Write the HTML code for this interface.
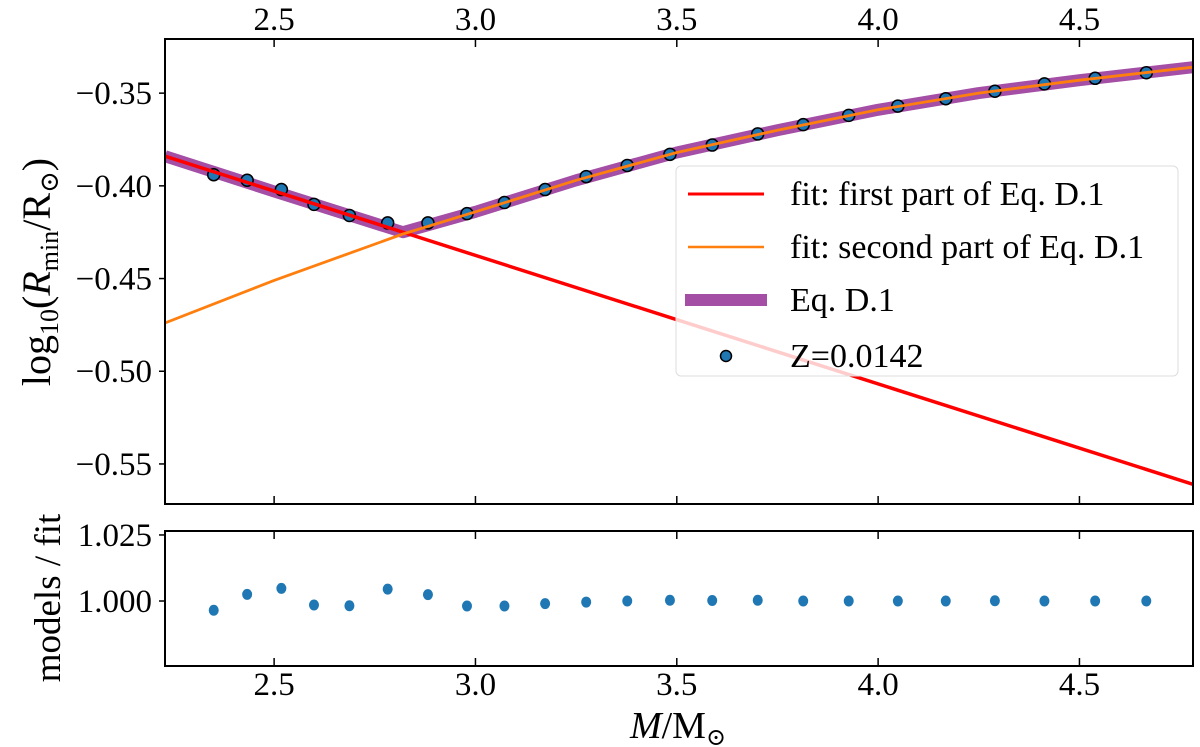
<!DOCTYPE html>
<html><head><meta charset="utf-8"><style>
html,body{margin:0;padding:0;background:#fff}
svg{display:block}
text{font-family:"Liberation Serif","DejaVu Serif",serif;fill:#000}
</style></head><body>
<svg id="chart" width="1200" height="747" viewBox="0 0 1200 747"></svg>
<script>
const masses=[2.350,2.433,2.518,2.599,2.687,2.782,2.882,2.979,3.072,3.173,3.275,3.377,3.483,3.588,3.701,3.814,3.927,4.049,4.168,4.290,4.413,4.539,4.666];
const modelLogR=[-0.394,-0.397,-0.402,-0.410,-0.416,-0.420,-0.420,-0.415,-0.409,-0.402,-0.395,-0.389,-0.383,-0.378,-0.372,-0.367,-0.362,-0.357,-0.353,-0.349,-0.345,-0.342,-0.339];
const ratios=[0.9965,1.0025,1.0048,0.9985,0.9982,1.0045,1.0024,0.9981,0.9981,0.9990,0.9996,1.0000,1.0003,1.0002,1.0003,1.0000,1.0000,1.0000,1.0000,1.0001,1.0000,1.0000,1.0000];
const redX=[2.229,3.5,4.782];
const redY=[-0.384,-0.4722,-0.561];
const orangeX=[2.229,2.5,2.82,3.0,3.25,3.5,3.75,4.0,4.25,4.5,4.782];
const orangeY=[-0.474,-0.451,-0.426,-0.414,-0.397,-0.382,-0.370,-0.359,-0.350,-0.343,-0.336];
const eqX=[2.229,2.5,2.82,3.0,3.25,3.5,3.75,4.0,4.25,4.5,4.782];
const eqY=[-0.384,-0.403,-0.425,-0.414,-0.397,-0.382,-0.370,-0.359,-0.350,-0.343,-0.336];
const xTicks=[2.5,3.0,3.5,4.0,4.5];
const yTicksTop=[-0.35,-0.40,-0.45,-0.50,-0.55];
const yTicksBot=[1.000,1.025];

const NS='http://www.w3.org/2000/svg';
const svg=document.getElementById('chart');
const L=165,R=1193,T1=39,B1=504,T2=531,B2=666;
const X0=2.229,X1=4.782,Y0=-0.5716,Y1=-0.3208,R0=0.9754,R1=1.0265;
const sx=v=>L+(v-X0)/(X1-X0)*(R-L);
const sy=v=>B1-(v-Y0)/(Y1-Y0)*(B1-T1);
const sr=v=>B2-(v-R0)/(R1-R0)*(B2-T2);
function mk(tag,attrs,parent){const e=document.createElementNS(NS,tag);for(const k in attrs)e.setAttribute(k,attrs[k]);(parent||svg).appendChild(e);return e;}
function txt(s,x,y,size,anchor,parent){const t=mk('text',{x:x,y:y,'font-size':size,'text-anchor':anchor||'middle'},parent);t.textContent=s;return t;}

const defs=mk('defs',{});
const cp=mk('clipPath',{id:'c1'},defs);mk('rect',{x:L,y:T1,width:R-L,height:B1-T1},cp);

function line(xs,ys,color,w,name){
  const d=xs.map((x,i)=>(i?'L':'M')+sx(x).toFixed(1)+','+sy(ys[i]).toFixed(1)).join(' ');
  const p=mk('path',{d:d,fill:'none',stroke:color,'stroke-width':w,'clip-path':'url(#c1)','stroke-linejoin':'round'});
  
  
}
line(eqX,eqY,'#a44ea6',12,'eq-d1-line');
masses.forEach((m,i)=>{
  const c=mk('circle',{cx:sx(m),cy:sy(modelLogR[i]),r:6,fill:'#1f77b4',stroke:'#000','stroke-width':1.5});
  
  
});
line(redX,redY,'#ff0000',3.5,'fit-first-part-line');
line(orangeX,orangeY,'#ff7f0e',2.8,'fit-second-part-line');

masses.forEach((m,i)=>{
  const c=mk('ellipse',{cx:sx(m),cy:sr(ratios[i]),rx:5,ry:5.5,fill:'#1f77b4'});
  
  
});

[[T1,B1],[T2,B2]].forEach(([t,b],k)=>{
  const f=mk('rect',{x:L,y:t,width:R-L,height:b-t,fill:'none',stroke:'#000','stroke-width':2});
  
  
});
xTicks.forEach(v=>{
  const x=sx(v);
  [[T1,1],[B1,-1],[T2,1],[B2,-1]].forEach(([y,d])=>mk('line',{x1:x,x2:x,y1:y,y2:y+d*8,stroke:'#000','stroke-width':1.5}));
  const a=txt(v.toFixed(1),x,30,33);
  
  
  const b=txt(v.toFixed(1),x,695,33);
  
  
});
yTicksTop.forEach(v=>{
  const y=sy(v);
  mk('line',{x1:L,x2:L-6,y1:y,y2:y,stroke:'#000','stroke-width':1.5});
  const t=txt('\u2212'+Math.abs(v).toFixed(2),152,y+11,33,'end');
  
  
});
yTicksBot.forEach(v=>{
  const y=sr(v);
  mk('line',{x1:L,x2:L-6,y1:y,y2:y,stroke:'#000','stroke-width':1.5});
  const t=txt(v.toFixed(3),152,y+11,33,'end');
  
  
});
</script>
<div style="position:absolute;left:0;top:0;width:1200px;height:747px;pointer-events:none">
<svg width="1200" height="747" style="position:absolute;left:0;top:0">
  <g>
    <text x="678" y="738" font-size="38" text-anchor="middle"><tspan font-style="italic">M</tspan>/M<tspan font-size="24" dy="7">⊙</tspan></text>
  </g>
  <g transform="translate(50,272) rotate(-90)">
    <text x="0" y="0" font-size="40" text-anchor="middle">log<tspan font-size="26" dy="8">10</tspan><tspan dy="-8">(</tspan><tspan font-style="italic">R</tspan><tspan font-size="26" dy="8">min</tspan><tspan dy="-8">/R</tspan><tspan font-size="26" dy="8">⊙</tspan><tspan dy="-8">)</tspan></text>
  </g>
  <g transform="translate(60,598) rotate(-90)">
    <text x="0" y="0" font-size="37" text-anchor="middle">models / fit</text>
  </g>
  <g>
    <rect x="676" y="166" width="502" height="210" rx="5" fill="#fff" fill-opacity="0.8" stroke="#ddd" stroke-width="1"/>
    <line x1="688" x2="764" y1="194" y2="194" stroke="#ff0000" stroke-width="3"/>
    <text x="790" y="205" font-size="34">fit: first part of Eq. D.1</text>
    <line x1="688" x2="764" y1="247" y2="247" stroke="#ff7f0e" stroke-width="2.5"/>
    <text x="790" y="258" font-size="34">fit: second part of Eq. D.1</text>
    <line x1="685" x2="767" y1="300" y2="300" stroke="#a44ea6" stroke-width="12"/>
    <text x="790" y="311" font-size="34">Eq. D.1</text>
    <circle cx="726" cy="356" r="5.5" fill="#1f77b4" stroke="#000" stroke-width="1.5"/>
    <text x="790" y="367" font-size="34">Z=0.0142</text>
  </g>
</svg>
</div>
</body></html>
